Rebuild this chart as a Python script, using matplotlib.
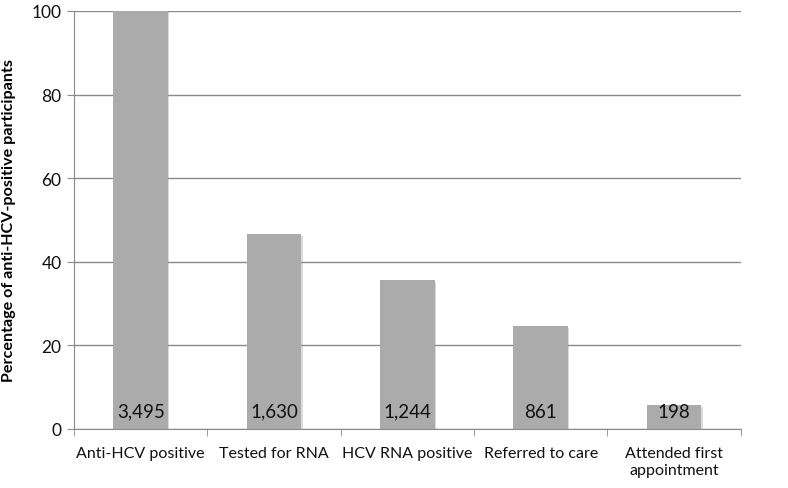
import matplotlib
matplotlib.use("Agg")
import matplotlib.pyplot as plt
import matplotlib.patheffects as pe
import numpy as np

# HCV care cascade
categories = ["Anti-HCV positive", "Tested for RNA", "HCV RNA positive",
              "Referred to care", "Attended first\nappointment"]
percent = [100.0, 46.6, 35.6, 24.6, 5.7]
counts = ["3,495", "1,630", "1,244", "861", "198"]

plt.rcParams['font.family'] = ['Lato', 'DejaVu Sans']

fig = plt.figure(figsize=(7.88, 4.89), dpi=100)
ax = fig.add_axes([0.094, 0.1207, 0.846, 0.855])

x = np.arange(len(categories))
bars = ax.bar(x, percent, width=0.41, color="#ababab", zorder=2)
for b in bars:
    b.set_path_effects([pe.SimplePatchShadow(offset=(1, -1), shadow_rgbFace="#999999", alpha=0.35),
                        pe.Normal()])

for xi, c in zip(x, counts):
    ax.text(xi, 2.2, c, ha="center", va="bottom", fontsize=13.5, color="#111111", zorder=3)

ax.set_xlim(-0.5, len(categories) - 0.5)
ax.set_ylim(0, 100)
ax.set_yticks(np.arange(0, 101, 20))
ax.yaxis.grid(True, color="#8a8a8a", linewidth=1.0, zorder=0)
ax.set_axisbelow(True)

ax.set_xticks(x)
ax.set_xticklabels(categories, fontsize=11.5, linespacing=1.35, color="#111111")
ax.set_xticks(np.arange(-0.5, len(categories), 1.0), minor=True)
ax.tick_params(axis="x", which="major", length=0, pad=12)
ax.tick_params(axis="x", which="minor", length=5, color="#8a8a8a", direction="out")
ax.tick_params(axis="y", length=5, color="#8a8a8a", labelsize=12.5, pad=4, labelcolor="#111111")

for side in ["top", "right"]:
    ax.spines[side].set_visible(False)
for side in ["left", "bottom"]:
    ax.spines[side].set_color("#8a8a8a")

ax.set_ylabel("Percentage of anti-HCV-positive participants", fontsize=11.6,
              fontweight="bold", labelpad=11)

fig.savefig("out.png", dpi=100, facecolor="white")
plt.close(fig)
